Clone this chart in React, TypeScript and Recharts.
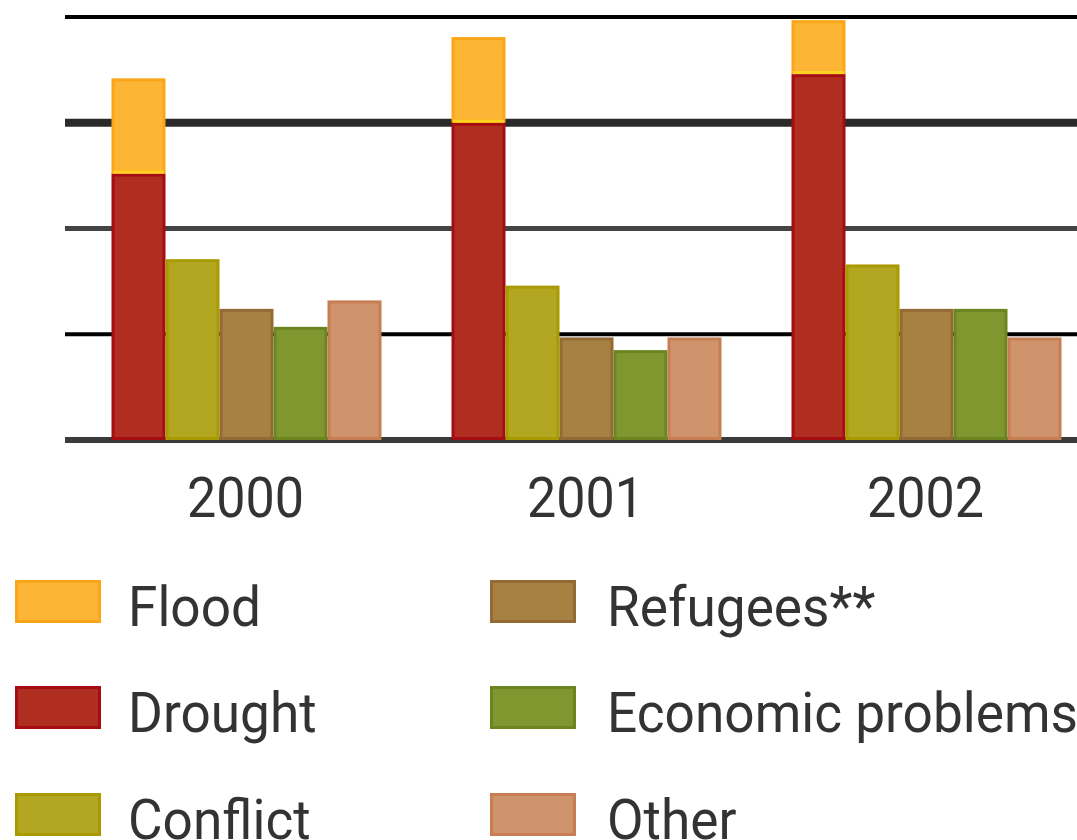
import React from 'react';
import { BarChart, Bar, XAxis, YAxis, CartesianGrid } from 'recharts';

const years = ['2000', '2001', '2002'];
const drought = [25.2, 30.0, 34.6];
const flood = [9.0, 8.1, 5.1];
const conflict = [17.1, 14.6, 16.6];
const refugees = [12.4, 9.7, 12.4];
const economic = [10.7, 8.5, 12.4];
const other = [13.2, 9.7, 9.7];
const yTicks = [0, 10, 20, 30, 40];
const legendLeft = ['Flood', 'Drought', 'Conflict'];
const legendRight = ['Refugees**', 'Economic problems', 'Other'];

const data = years.map((year, i) => ({
  year,
  drought: drought[i],
  flood: flood[i],
  conflict: conflict[i],
  refugees: refugees[i],
  economic: economic[i],
  other: other[i],
}));

const COLORS: Record<string, { fill: string; stroke: string }> = {
  Flood: { fill: '#fcb535', stroke: '#fba618' },
  Drought: { fill: '#b02e20', stroke: '#a50d12' },
  Conflict: { fill: '#b3a722', stroke: '#a89a00' },
  'Refugees**': { fill: '#a68142', stroke: '#936a33' },
  'Economic problems': { fill: '#80962e', stroke: '#6b8520' },
  Other: { fill: '#cf946c', stroke: '#c67e52' },
};

const GRID_STYLE = [
  { w: 6, c: '#3a3a3a' },
  { w: 4, c: '#000000' },
  { w: 5, c: '#444444' },
  { w: 8, c: '#2a2a2a' },
  { w: 4, c: '#000000' },
];

const FONT = 'Roboto, "Noto Sans", sans-serif';
const TEXT_COLOR = '#333333';
const SX_TICK = 0.93;
const SX_LEGEND = 0.95;

const boxShape = (name: string, bottomLine?: string) => (p: any) => {
  const { x, y, width, height } = p;
  if (!height || height <= 0) return <g />;
  const c = COLORS[name];
  return (
    <g>
      <rect
        x={x + 1.5}
        y={y + 1.5}
        width={Math.max(0, width - 3)}
        height={Math.max(0, height - 3)}
        fill={c.fill}
        stroke={c.stroke}
        strokeWidth={3}
      />
      {bottomLine ? (
        <line
          x1={x + 1.5}
          x2={x + width - 1.5}
          y1={y + height - 1.5}
          y2={y + height - 1.5}
          stroke={bottomLine}
          strokeWidth={3}
        />
      ) : null}
    </g>
  );
};

const gridLine = (p: any) => {
  const s = GRID_STYLE[p.index] || GRID_STYLE[0];
  return (
    <line
      key={p.key}
      x1={p.x1}
      x2={p.x2}
      y1={p.y1}
      y2={p.y2}
      stroke={s.c}
      strokeWidth={s.w}
    />
  );
};

const YearTick = (p: any) => {
  const { x, y, payload } = p;
  return (
    <text
      transform={`translate(${x} ${y + 77}) scale(${SX_TICK} 1)`}
      textAnchor="middle"
      fontFamily={FONT}
      fontSize={56}
      fill={TEXT_COLOR}
    >
      {payload.value}
    </text>
  );
};

const ROW_TOPS = [580, 686, 793];

const LegendColumn = ({ items, sx, tx }: { items: string[]; sx: number; tx: number }) => (
  <g>
    {items.map((name, i) => {
      const c = COLORS[name];
      const top = ROW_TOPS[i];
      return (
        <g key={name}>
          <rect x={sx + 1.5} y={top + 1.5} width={83} height={40} fill={c.fill} stroke={c.stroke} strokeWidth={3} />
          <text
            transform={`translate(${tx} ${top + 46}) scale(${SX_LEGEND} 1)`}
            fontFamily={FONT}
            fontSize={56}
            fill={TEXT_COLOR}
          >
            {name}
          </text>
        </g>
      );
    })}
  </g>
);

export default function App() {
  return (
    <div
      style={{
        position: 'absolute',
        left: 0,
        top: 0,
        width: 1077,
        height: 840,
        overflow: 'hidden',
        background: '#ffffff',
      }}
    >
      <BarChart
        width={1105}
        height={900}
        data={data}
        margin={{ top: 17, right: 0, left: 65, bottom: 400 }}
        barCategoryGap={36}
        barGap={0}
      >
        <CartesianGrid vertical={false} horizontal={gridLine} />
        <XAxis
          dataKey="year"
          height={60}
          axisLine={false}
          tickLine={false}
          tickSize={0}
          tickMargin={0}
          padding={{ left: 10.5, right: 9.5 }}
          tick={<YearTick />}
          interval={0}
        />
        <YAxis hide domain={[0, 40]} ticks={yTicks} />
        <Bar dataKey="drought" stackId="a" isAnimationActive={false} shape={boxShape('Drought')} />
        <Bar dataKey="flood" stackId="a" isAnimationActive={false} shape={boxShape('Flood', '#ffd21f')} />
        <Bar dataKey="conflict" isAnimationActive={false} shape={boxShape('Conflict')} />
        <Bar dataKey="refugees" isAnimationActive={false} shape={boxShape('Refugees**')} />
        <Bar dataKey="economic" isAnimationActive={false} shape={boxShape('Economic problems')} />
        <Bar dataKey="other" isAnimationActive={false} shape={boxShape('Other')} />
      </BarChart>
      <svg
        width={1077}
        height={840}
        style={{ position: 'absolute', left: 0, top: 0, pointerEvents: 'none' }}
      >
        <LegendColumn items={legendLeft} sx={15} tx={128} />
        <LegendColumn items={legendRight} sx={490} tx={607} />
      </svg>
    </div>
  );
}
